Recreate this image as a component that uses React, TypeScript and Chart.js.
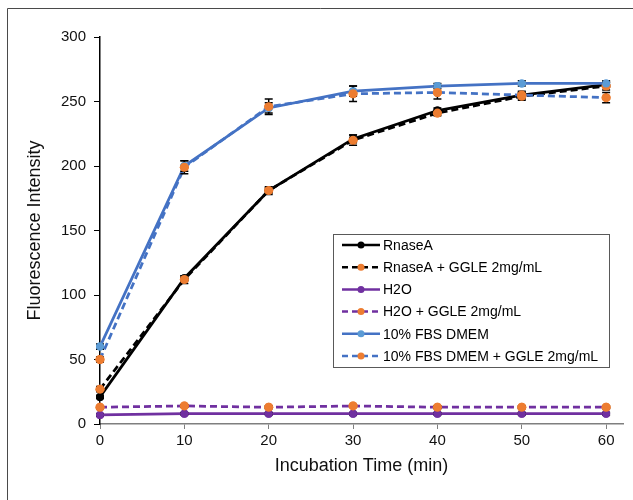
import React, { useEffect, useRef } from "react";
import { Chart, registerables } from "chart.js";

Chart.register(...registerables);

// ---- data ----
const times = [0, 10, 20, 30, 40, 50, 60];
const xTicks = [0, 10, 20, 30, 40, 50, 60];
const yTicks = [0, 50, 100, 150, 200, 250, 300];

const seriesLabels = [
  "RnaseA",
  "RnaseA + GGLE 2mg/mL",
  "H2O",
  "H2O + GGLE 2mg/mL",
  "10% FBS DMEM",
  "10% FBS DMEM + GGLE 2mg/mL",
];

const rnaseA = [21, 113, 181, 221, 243, 255, 263];
const rnaseAGgle = [27, 112, 181, 220, 241, 254, 262];
const h2o = [7, 8, 8, 8, 8, 8, 8];
const h2oGgle = [13, 14, 13, 14, 13, 13, 13];
const fbs = [60, 200, 245, 258, 262, 264, 264];
const fbsGgle = [50, 199, 246, 256, 257, 255, 253];

const rnaseAErr = [1, 2, 2, 3, 2, 2, 2];
const rnaseAGgleErr = [2, 3, 3, 4, 2, 3, 3];
const h2oErr = [1, 1, 1, 1, 1, 1, 1];
const h2oGgleErr = [1, 1, 1, 1, 1, 1, 1];
const fbsErr = [2, 4, 4, 4, 2, 2, 2];
const fbsGgleErr = [2, 5, 6, 6, 5, 3, 4];

const values = [rnaseA, rnaseAGgle, h2o, h2oGgle, fbs, fbsGgle];
const errors = [rnaseAErr, rnaseAGgleErr, h2oErr, h2oGgleErr, fbsErr, fbsGgleErr];

// ---- styles ----
const ORANGE = "#ED7D31";
const lineColors = ["#000000", "#000000", "#7030A0", "#7030A0", "#4472C4", "#4472C4"];
const markerColors = ["#000000", ORANGE, "#7030A0", ORANGE, "#5B9BD5", ORANGE];
const dashed = [false, true, false, true, false, true];
const FONT = "'Liberation Sans', Arial, sans-serif";

const framePlugin = {
  id: "frame",
  afterDraw(chart: any) {
    const ctx = chart.ctx;
    ctx.save();
    ctx.strokeStyle = "#4a4a4a";
    ctx.lineWidth = 1;
    ctx.beginPath();
    ctx.moveTo(7.5, 500);
    ctx.lineTo(7.5, 8.5);
    ctx.lineTo(633, 8.5);
    ctx.stroke();
    ctx.restore();
  },
};

const errorBarPlugin = {
  id: "errorBars",
  afterDatasetsDraw(chart: any) {
    const ctx = chart.ctx;
    const ys = chart.scales.y;
    ctx.save();
    ctx.strokeStyle = "#000";
    ctx.lineWidth = 1.5;
    chart.data.datasets.forEach((ds: any, di: number) => {
      const meta = chart.getDatasetMeta(di);
      const errs = errors[di];
      meta.data.forEach((pt: any, i: number) => {
        const v = values[di][i];
        const e = errs[i];
        const yTop = ys.getPixelForValue(v + e);
        const yBot = ys.getPixelForValue(v - e);
        const x = pt.x;
        ctx.beginPath();
        ctx.moveTo(x, yTop);
        ctx.lineTo(x, yBot);
        ctx.moveTo(x - 4, yTop);
        ctx.lineTo(x + 4, yTop);
        ctx.moveTo(x - 4, yBot);
        ctx.lineTo(x + 4, yBot);
        ctx.stroke();
      });
    });
    ctx.restore();
    // redraw markers on top of the error bars (last series on top)
    for (let di = 0; di < chart.data.datasets.length; di++) {
      const meta = chart.getDatasetMeta(di);
      meta.data.forEach((pt: any) => pt.draw(ctx));
    }
  },
};

const legendPlugin = {
  id: "boxLegend",
  afterDraw(chart: any) {
    const ctx = chart.ctx;
    const left = 333.5;
    const top = 234.5;
    const right = 609.5;
    const bottom = 367.5;
    ctx.save();
    ctx.fillStyle = "#fff";
    ctx.fillRect(left, top, right - left, bottom - top);
    ctx.strokeStyle = "#595959";
    ctx.lineWidth = 1;
    ctx.strokeRect(left, top, right - left, bottom - top);
    const rowY0 = 245;
    const rowStep = 22.2;
    ctx.font = `14px ${FONT}`;
    ctx.textBaseline = "middle";
    ctx.textAlign = "left";
    chart.data.datasets.forEach((ds: any, i: number) => {
      const y = rowY0 + i * rowStep;
      ctx.strokeStyle = lineColors[i];
      ctx.lineWidth = 2.5;
      ctx.setLineDash(dashed[i] ? [6, 4] : []);
      ctx.beginPath();
      ctx.moveTo(342, y);
      ctx.lineTo(380, y);
      ctx.stroke();
      ctx.setLineDash([]);
      ctx.fillStyle = markerColors[i];
      ctx.beginPath();
      ctx.arc(361, y, 3.5, 0, Math.PI * 2);
      ctx.fill();
      ctx.fillStyle = "#000";
      ctx.fillText(ds.label, 383, y + 1);
    });
    ctx.restore();
  },
};

export default function App() {
  const canvasRef = useRef<HTMLCanvasElement | null>(null);

  useEffect(() => {
    if (!canvasRef.current) return;
    const datasets = seriesLabels.map((label, i) => ({
      label,
      data: times.map((t, j) => ({ x: t, y: values[i][j] })),
      borderColor: lineColors[i],
      backgroundColor: markerColors[i],
      pointBackgroundColor: markerColors[i],
      pointBorderColor: markerColors[i],
      pointBorderWidth: 0,
      pointRadius: markerColors[i] === ORANGE ? 4.5 : 4,
      borderWidth: 2.75,
      borderDash: dashed[i] ? [7, 4] : [],
      tension: 0,
      fill: false,
      clip: false as any,
      order: -i,
    }));

    const chart = new Chart(canvasRef.current, {
      type: "line",
      data: { datasets },
      plugins: [framePlugin, errorBarPlugin, legendPlugin],
      options: {
        responsive: false,
        animation: false,
        layout: { padding: { left: 0, right: 10, top: 37, bottom: 0 } },
        plugins: {
          legend: { display: false },
          tooltip: { enabled: false },
        },
        scales: {
          x: {
            type: "linear",
            min: 0,
            max: 62,
            afterBuildTicks: (scale: any) => {
              scale.ticks = xTicks.map((v) => ({ value: v }));
            },
            afterFit: (scale: any) => {
              scale.height = 76;
            },
            ticks: {
              font: { family: FONT, size: 15 },
              color: "#111",
              padding: 3,
              maxRotation: 0,
            },
            grid: {
              display: true,
              drawOnChartArea: false,
              drawTicks: true,
              tickLength: 5,
              color: "#7f7f7f",
            },
            border: { display: true, color: "#7f7f7f", width: 1.5 },
            title: {
              display: true,
              text: "Incubation Time (min)",
              font: { family: FONT, size: 18 },
              color: "#111",
              padding: { top: 0, bottom: 23 },
            },
          },
          y: {
            type: "linear",
            min: 0,
            max: 300,
            afterBuildTicks: (scale: any) => {
              scale.ticks = yTicks.map((v) => ({ value: v }));
            },
            afterFit: (scale: any) => {
              scale.width = 100;
            },
            ticks: {
              font: { family: FONT, size: 15 },
              color: "#111",
              padding: 8,
            },
            grid: {
              display: true,
              drawOnChartArea: false,
              drawTicks: true,
              tickLength: 6,
              color: "#000",
            },
            border: { display: true, color: "#000", width: 1.5 },
            title: {
              display: true,
              text: "Fluorescence Intensity",
              font: { family: FONT, size: 18 },
              color: "#111",
              padding: { top: 24, bottom: 0 },
            },
          },
        },
      },
    });
    return () => chart.destroy();
  }, []);

  return (
    <div style={{ position: "absolute", left: 0, top: 0, width: 633, height: 500, background: "#fff" }}>
      <canvas ref={canvasRef} width={633} height={500} style={{ display: "block" }} />
    </div>
  );
}
